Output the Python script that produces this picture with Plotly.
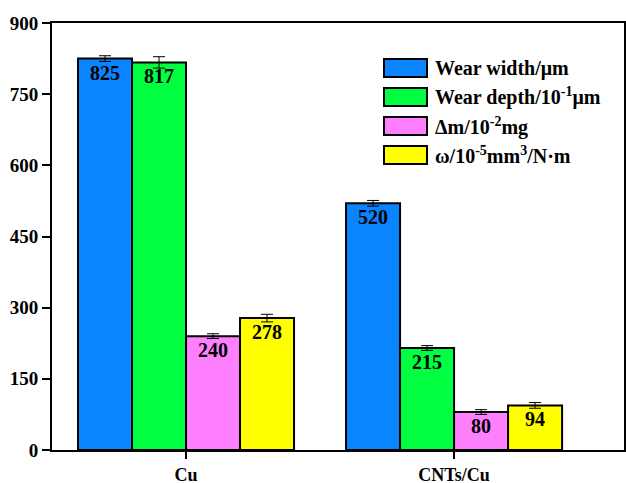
import plotly.graph_objects as go

categories = ["Cu", "CNTs/Cu"]
series_names = ["Wear width/μm", "Wear depth/10<sup>-1</sup>μm",
                "Δm/10<sup>-2</sup>mg", "ω/10<sup>-5</sup>mm<sup>3</sup>/N·m"]
wear_width = [825, 520]
wear_depth = [817, 215]
delta_m = [240, 80]
omega = [278, 94]
wear_width_err = [6, 6]
wear_depth_err = [12, 5]
delta_m_err = [5, 5]
omega_err = [8, 6]
y_ticks = [0, 150, 300, 450, 600, 750, 900]

colors = ["#0A84FF", "#00FF40", "#FF80FF", "#FFFF00"]
values = [wear_width, wear_depth, delta_m, omega]
errs = [wear_width_err, wear_depth_err, delta_m_err, omega_err]

FONT = "Liberation Serif"
fig = go.Figure()
for name, v, e, c in zip(series_names, values, errs, colors):
    fig.add_trace(go.Bar(
        x=categories, y=v, name=name,
        marker=dict(color=c, line=dict(color="black", width=2)),
        error_y=dict(type="data", array=e, color="black", thickness=1, width=6),
        text=[str(t) for t in v], textposition="inside", insidetextanchor="end",
        textangle=0,
        textfont=dict(family=FONT, size=20, color="black", weight="bold"),
        showlegend=False,
    ))

W, H = 626, 483
ml, mr, mt, mb = 52, 2, 23, 33
pw, ph = W - ml - mr, H - mt - mb

def px(x):
    return (x - ml) / pw

def py(y):
    return (H - mb - y) / ph

shapes, annotations = [], []
for i, (name, c) in enumerate(zip(series_names, colors)):
    yc = 68 + 29 * i
    shapes.append(dict(type="rect", xref="paper", yref="paper",
                       x0=px(384), x1=px(427), y0=py(yc + 9), y1=py(yc - 9),
                       fillcolor=c, line=dict(color="black", width=2)))
    annotations.append(dict(xref="paper", yref="paper", x=px(433), y=py(yc),
                            xanchor="left", yanchor="middle", showarrow=False,
                            text=name,
                            font=dict(family=FONT, size=20, color="black", weight="bold")))

fig.update_layout(
    width=W, height=H,
    margin=dict(l=ml, r=mr, t=mt, b=mb, autoexpand=False),
    paper_bgcolor="white", plot_bgcolor="white",
    barmode="group", bargap=0.194, bargroupgap=0,
    font=dict(family=FONT, size=18, color="black", weight="bold"),
    shapes=shapes, annotations=annotations,
    xaxis=dict(range=[-0.5, 1.634], showline=True, linecolor="black", linewidth=2,
               mirror=True, ticks="outside", ticklen=7, tickwidth=2, tickcolor="black",
               tickfont=dict(family=FONT, size=18, color="black", weight="bold"),
               showgrid=False, zeroline=False, automargin=False),
    yaxis=dict(range=[0, 900], tickvals=y_ticks, showline=True, linecolor="black",
               linewidth=2, mirror=True, ticks="outside", ticklen=8, tickwidth=2,
               tickcolor="black",
               tickfont=dict(family=FONT, size=19, color="black", weight="bold"),
               showgrid=False, zeroline=False, automargin=False),
)
fig.write_html("out.html", config={"displayModeBar": False},
               post_script="document.body.style.margin='0';document.body.style.overflow='hidden';")
